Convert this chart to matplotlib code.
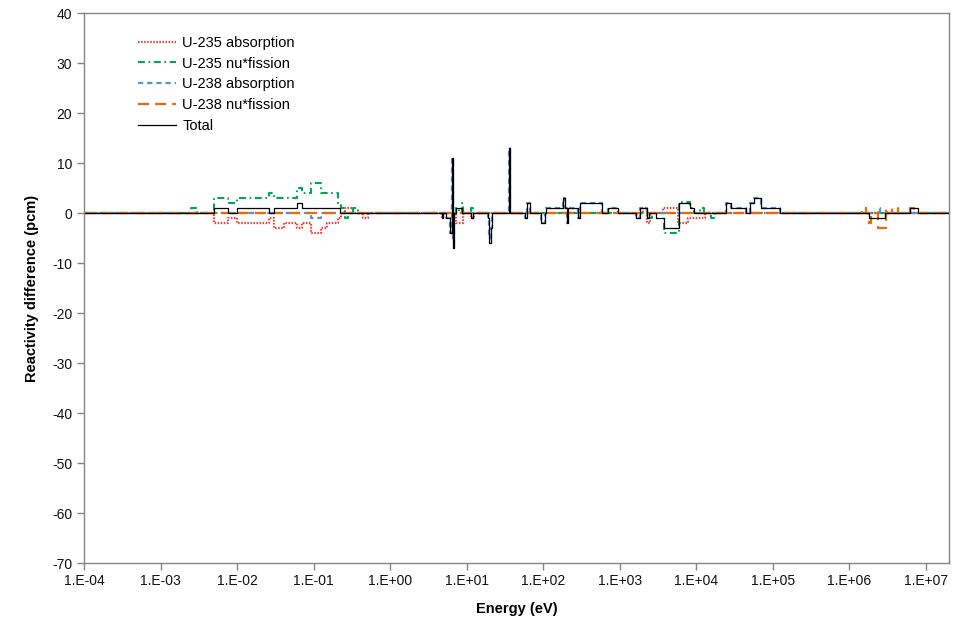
import numpy as np
import matplotlib
matplotlib.use("Agg")
import matplotlib.pyplot as plt
from matplotlib.ticker import FixedLocator, FuncFormatter

plt.rcParams['font.family'] = ['Liberation Sans', 'DejaVu Sans']
plt.rcParams['lines.scale_dashes'] = False
plt.rcParams['axes.unicode_minus'] = False

# group edges (eV) and value in each group (pcm), value i holds from edge i to edge i+1
u235_abs_edges = [1e-4, 5e-3, 7.5e-3, 1e-2, 2.6e-2, 3.0e-2, 4.1e-2, 6.0e-2, 7.0e-2, 0.093,
                  0.125, 0.15, 0.21, 0.23, 0.26, 0.33, 0.44, 0.51, 4.7, 4.9, 7.3, 8.9,
                  11.5, 12.5, 2000, 2230, 2500, 3700, 5800, 7800, 13000, 2e7]
u235_abs_vals = [0, -2, -1, -2, -1, -3, -2, -3, -2, -4,
                 -3, -2, -1, 0, 1, 0, -1, 0, -1, 0, -2, 0,
                 -1, 0, 1, -2, 0, 1, -2, -1, 0]

u235_fis_edges = [1e-4, 2.5e-3, 3.0e-3, 5e-3, 7.5e-3, 1e-2, 2.6e-2, 3.0e-2, 6.0e-2, 7.0e-2,
                  0.093, 0.125, 0.21, 0.23, 0.26, 0.28, 0.33, 0.38, 7.3, 8.0, 8.6, 9.0,
                  11.3, 12.0, 2230, 2600, 3800, 6000, 8200, 9400, 11000, 12700, 15500,
                  17400, 2e7]
u235_fis_vals = [0, 1, 0, 3, 2, 3, 4, 3, 5, 4,
                 6, 4, 2, 1, -1, 0, 1, 0, 1, 0, 2, 0,
                 1, 0, -1, 0, -4, 2.3, 1, 0, 1, 0, -1,
                 0]

u238_abs_edges = [1e-4, 0.093, 0.125, 5.4, 6.0, 6.45, 6.65, 6.85, 19.0, 19.8, 20.8, 21.5,
                  35.2, 37.2, 58, 62, 68, 94, 105, 110, 181, 192, 204, 213, 284, 305,
                  580, 707, 955, 1610, 1830, 2230, 24500, 28500, 44500, 50000, 57000,
                  70000, 122000, 2.4e6, 2.5e6, 2e7]
u238_abs_vals = [0, -1, 0, -1, -4, 11, -6, 0, -1, -5, -3,
                 0, 13, 0, -1, 2, 0, -2, 0, 1, 3, 1, -2, 1, -1,
                 2, 0, 1, 0, -1, 1, 0, 2, 1, 0, 2,
                 3, 1, 0, 1, 0]

u238_fis_edges = [1e-4, 1.45e6, 1.65e6, 1.78e6, 1.9e6, 2.35e6, 3.0e6, 3.1e6, 3.55e6, 4.3e6,
                  6.2e6, 7.0e6, 2e7]
u238_fis_vals = [0, 1, 0, -2, 0, -3, 1, 0, 1, 0, 1, 0]

total_edges = [1e-4, 5e-3, 7.5e-3, 1e-2, 2.6e-2, 3.0e-2, 6.0e-2, 7.0e-2, 0.22, 4.7, 4.9,
               5.4, 6.0, 6.45, 6.65, 6.85, 7.3, 8.6, 11.3, 12.0, 19.0, 19.8, 20.8, 21.5,
               35.2, 37.2, 58, 62, 68, 94, 105, 110, 181, 192, 204, 213, 284, 305, 580,
               707, 955, 1610, 1830, 2230, 2400, 3000, 3800, 6000, 8200, 9400, 24500,
               28500, 44500, 50000, 57000, 70000, 122000, 1.78e6, 2.9e6, 6.2e6, 7.8e6, 2e7]
total_vals = [0, 1, 0, 1, 0, 1, 2, 1, 0, -1,
              0, -1, -4, 11, -7, 0, 1, 0, -1, 0, -1, -6, -3,
              0, 13, 0, -1, 2, 0, -2, 0, 1, 3, 1, -2, 1, -1, 2,
              0, 1, 0, -1, 1, -1, 0, -1, -3, 2, 1, 0,
              2, 1, 0, 2, 3, 1, 0, -1, 0, 1, 0]

series = [
    ('U-235 absorption', u235_abs_edges, u235_abs_vals, '#F03C3C', (0, (1.1, 1.1)), 1.6),
    ('U-235 nu*fission', u235_fis_edges, u235_fis_vals, '#00A651', (0, (5, 2.6, 1.2, 2.6)), 1.5),
    ('U-238 absorption', u238_abs_edges, u238_abs_vals, '#5B8FD8', (0, (3.8, 2.8)), 1.6),
    ('U-238 nu*fission', u238_fis_edges, u238_fis_vals, '#E46C0A', (0, (8, 4.3)), 1.6),
    ('Total', total_edges, total_vals, '#000000', '-', 0.9),
]

fig = plt.figure(figsize=(9.55, 6.25), dpi=100)
ax = fig.add_axes([0.088, 0.0987, 0.9058, 0.88])

for name, edges, vals, col, ls, lw in series:
    ax.step(edges, list(vals) + [vals[-1]], where='post', color=col,
            linestyle=ls, linewidth=lw, label=name)

ax.set_xscale('log')
ax.set_xlim(1e-4, 2e7)
ax.set_ylim(-70, 40)
ax.xaxis.set_major_locator(FixedLocator([10.0 ** k for k in range(-4, 8)]))
ax.xaxis.set_minor_locator(FixedLocator([]))
ax.xaxis.set_major_formatter(FuncFormatter(lambda v, p: '1.E%+03d' % int(round(np.log10(v)))))
ax.set_yticks(np.arange(-70, 41, 10))

for s in ax.spines.values():
    s.set_color('#868686')
    s.set_linewidth(1.0)
ax.tick_params(axis='both', direction='out', length=5, width=1, color='#868686',
               labelsize=10, labelcolor='#111111')
ax.tick_params(axis='x', pad=3)

ax.set_xlabel('Energy (eV)', fontsize=10.5, fontweight='bold', labelpad=10)
ax.set_ylabel('Reactivity difference (pcm)', fontsize=10.5, fontweight='bold', labelpad=9)

ax.legend(loc='upper left', bbox_to_anchor=(0.062, 0.959), frameon=False,
          fontsize=10.5, handlelength=2.6, handletextpad=0.45, labelspacing=0.46,
          borderpad=0, borderaxespad=0)

fig.savefig('out.png', dpi=100)
